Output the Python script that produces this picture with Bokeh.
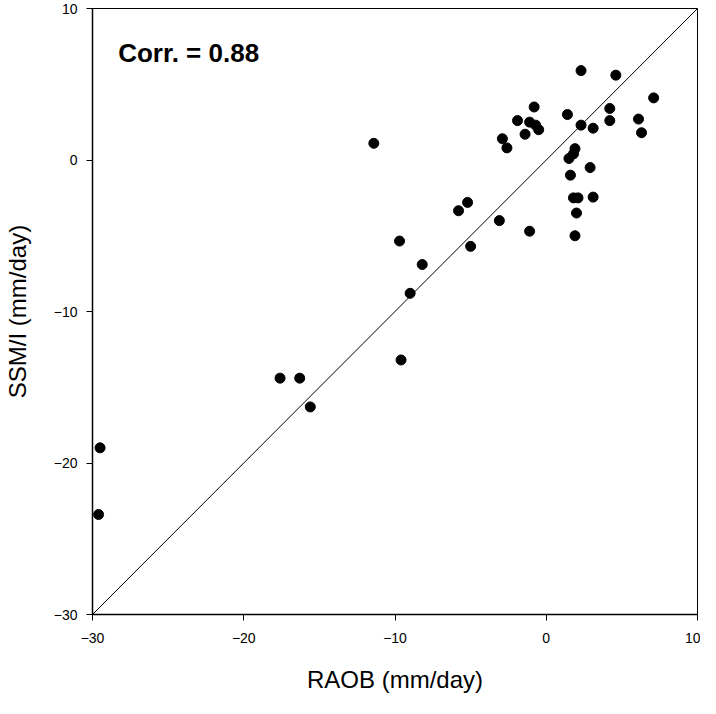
from bokeh.plotting import figure
from bokeh.models import Range1d, Slope, Label, FixedTicker
from bokeh.embed import file_html
from bokeh.resources import INLINE

raob = [2.3, 4.6, 7.1, -0.8, 4.2, 1.4, -1.9, -1.1, 4.2, 6.1, -0.7, -0.5, 2.3, 3.1,
        -1.4, 6.3, -2.9, -2.6, 1.9, 1.8, 1.5, 2.9, 1.6, 1.8, 2.1, 3.1, 2.0, -3.1,
        -1.1, 1.9, -11.4, -5.2, -5.8, -5.0, -9.7, -8.2, -9.0, -9.6,
        -29.5, -29.6, -17.6, -16.3, -15.6]
ssmi = [5.9, 5.6, 4.1, 3.5, 3.4, 3.0, 2.6, 2.5, 2.6, 2.7, 2.3, 2.0, 2.3, 2.1,
        1.7, 1.8, 1.4, 0.8, 0.75, 0.4, 0.1, -0.5, -1.0, -2.5, -2.5, -2.45, -3.5, -4.0,
        -4.7, -5.0, 1.1, -2.8, -3.35, -5.7, -5.35, -6.9, -8.8, -13.2,
        -19.0, -23.4, -14.4, -14.4, -16.3]
ticks = [-30, -20, -10, 0, 10]
corr_text = "Corr. = 0.88"

FONT = "Liberation Sans"

p = figure(width=700, height=698, output_backend="svg", toolbar_location=None,
           x_range=Range1d(-30, 10), y_range=Range1d(-30, 10),
           min_border_left=89, min_border_right=3, min_border_top=8, min_border_bottom=84)
p.background_fill_color = "white"
p.border_fill_color = "white"
p.outline_line_color = "black"
p.outline_line_width = 1
p.grid.visible = False

for ax in (p.xaxis[0], p.yaxis[0]):
    ax.ticker = FixedTicker(ticks=ticks)
    ax.minor_tick_line_color = None
    ax.major_tick_out = 6
    ax.major_tick_in = 0
    ax.axis_line_color = "black"
    ax.axis_line_width = 1.5
    ax.major_tick_line_color = "black"
    ax.major_label_text_font = FONT
    ax.major_label_text_font_size = "14px"
    ax.major_label_text_color = "black"
    ax.axis_label_text_font = FONT
    ax.axis_label_text_font_size = "24px"
    ax.axis_label_text_font_style = "normal"
    ax.axis_label_text_color = "black"

p.xaxis.axis_label = "RAOB (mm/day)"
p.yaxis.axis_label = "SSM/I (mm/day)"
p.xaxis.major_label_standoff = 12
p.yaxis.major_label_standoff = 9
p.xaxis.axis_label_standoff = 20
p.yaxis.axis_label_standoff = 20

p.add_layout(Slope(gradient=1, y_intercept=0, line_color="black", line_width=1))
p.scatter(raob, ssmi, size=10, color="black")

p.add_layout(Label(x=-28.3, y=7.07, text=corr_text, text_font=FONT,
                   text_font_size="26px", text_font_style="bold", text_color="black",
                   text_baseline="alphabetic"))

open("out.html", "w").write(file_html(p, INLINE))
